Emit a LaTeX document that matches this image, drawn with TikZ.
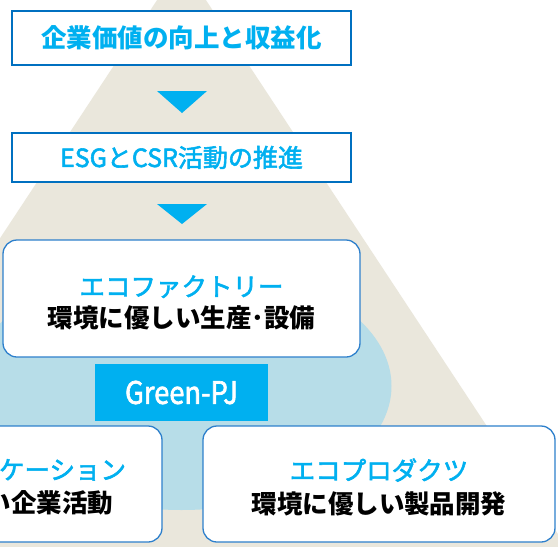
\documentclass[tikz,border=0pt]{standalone}
\usepackage{fontspec}
\newfontfamily\jp{Noto Sans CJK JP}
\newfontfamily\jpm[FakeBold=2.2]{Noto Sans CJK JP}
\definecolor{beige}{HTML}{EAE7DC}
\definecolor{lblue}{HTML}{B7DDE8}
\definecolor{cyanc}{HTML}{00B0F0}
\definecolor{topblue}{HTML}{0070C0}
\definecolor{boxblue}{HTML}{2E80CC}
\begin{document}
\begin{tikzpicture}[x=1pt,y=-1pt,
  headbox/.style={draw=topblue, line width=2pt, fill=white, minimum width=339pt, inner sep=0pt, text=cyanc},
  roundbox/.style={draw=boxblue, line width=1.3pt, fill=white, rounded corners=14pt, inner sep=0pt, minimum width=352pt, minimum height=116pt},
  boxtext/.style={align=center, inner sep=0pt, font=\fontsize{25.5}{33}\selectfont},
  downtri/.style={fill=cyanc}
]
\useasboundingbox (0,0) rectangle (558,547);
\clip (0,0) rectangle (558,547);
\fill[white] (0,0) rectangle (558,547);
% pyramid
\fill[beige] (181.5,-37) -- (601.5,600) -- (-238.5,600) -- cycle;
% light blue ellipse
\fill[lblue] (181.5,386) ellipse [x radius=210, y radius=124];
% top boxes
\node[headbox, minimum height=54pt, font=\jp\bfseries\fontsize{25.5}{30}\selectfont] (goal) at (181.5,38) {企業価値の向上と収益化};
\node[headbox, minimum height=49pt, font=\jpm\fontsize{25}{30}\selectfont] (esg) at (181.5,157.5) {ESGとCSR活動の推進};
% arrows
\coordinate (a1) at (182,91);
\coordinate (a2) at (182,204);
\fill[downtri] (a1) ++(-25,0) -- ++(50,0) -- ++(-25,22) -- cycle;
\fill[downtri] (a2) ++(-25,0) -- ++(50,0) -- ++(-25,20) -- cycle;
% three pillars
\node[roundbox, minimum width=357pt, minimum height=117pt] (factory) at (181.5,298.5) {};
\node[boxtext] (factorytxt) at ([yshift=-4pt]factory.center) {\jpm\textcolor{cyanc}{エコファクトリー}\\[-2pt]\jp\bfseries 環境に優しい生産･設備};
\node[fill=cyanc, minimum width=173pt, minimum height=57pt, inner sep=0pt, text=white, font=\jpm\fontsize{31}{34}\selectfont] (gpj) at (181.5,392.5) {\scalebox{0.88}[1]{Green-PJ}};
\node[roundbox] (comm) at (-14,484) {};
\node[boxtext] (commtxt) at ([yshift=-3pt]comm.center) {\jpm\textcolor{cyanc}{エココミュニケーション}\\\jp\bfseries 環境に優しい企業活動};
\node[roundbox] (prod) at (379,484) {};
\node[boxtext] (prodtxt) at ([yshift=-3pt]prod.center) {\jpm\textcolor{cyanc}{エコプロダクツ}\\\jp\bfseries 環境に優しい製品開発};
\end{tikzpicture}
\end{document}
